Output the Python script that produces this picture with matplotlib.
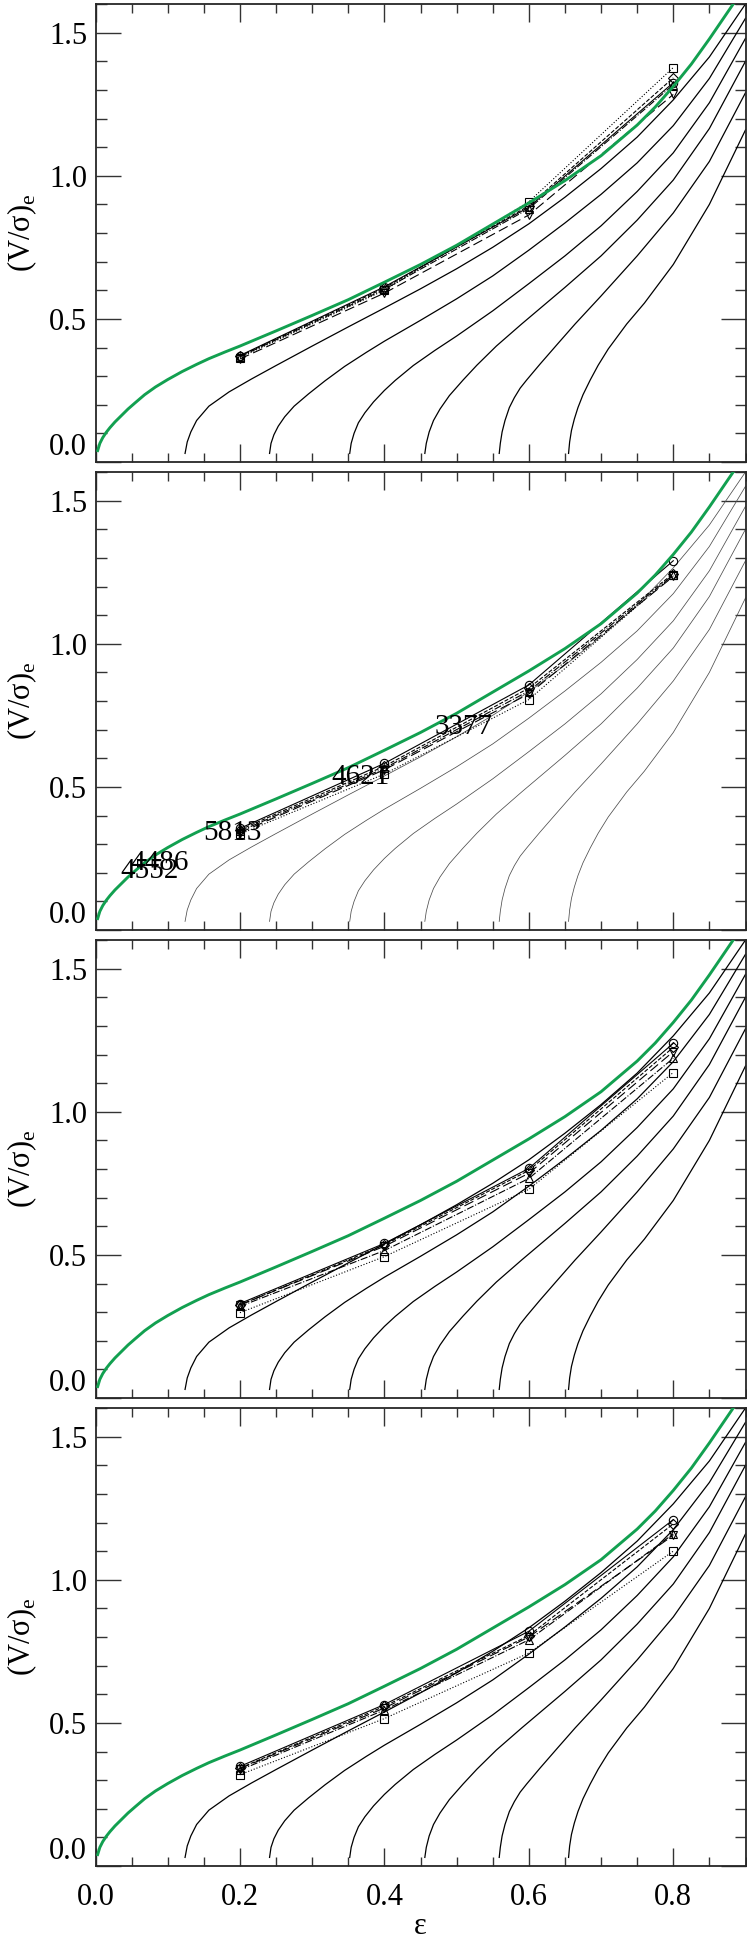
import matplotlib
matplotlib.use("Agg")
import matplotlib.pyplot as plt
from matplotlib.ticker import MultipleLocator

plt.rcParams['font.family'] = ['Liberation Serif', 'DejaVu Serif']
plt.rcParams['mathtext.fontset'] = 'custom'
plt.rcParams['mathtext.rm'] = 'Liberation Serif'

# ---- model curves ----
# green: edge-on line
green_eps = [0.003, 0.006, 0.01, 0.015, 0.02, 0.027, 0.035, 0.045, 0.055, 0.068, 0.083,
             0.1, 0.12, 0.14, 0.157, 0.18, 0.2, 0.25, 0.3, 0.35, 0.4, 0.45, 0.5, 0.55,
             0.6, 0.65, 0.7, 0.75, 0.775, 0.8, 0.825, 0.85, 0.883]
green_vs = [0.04, 0.065, 0.085, 0.104, 0.12, 0.14, 0.16, 0.185, 0.207, 0.235, 0.262,
            0.288, 0.316, 0.341, 0.361, 0.385, 0.405, 0.458, 0.512, 0.567, 0.628, 0.69,
            0.757, 0.831, 0.905, 0.983, 1.07, 1.177, 1.24, 1.312, 1.39, 1.478, 1.60]

# thin black curves (six of them)
c1_eps = [0.124, 0.127, 0.132, 0.14, 0.157, 0.185, 0.216, 0.25, 0.3, 0.35, 0.4, 0.45,
          0.5, 0.55, 0.6, 0.65, 0.7, 0.75, 0.8, 0.85, 0.9]
c1_vs = [0.03, 0.07, 0.105, 0.145, 0.195, 0.245, 0.29, 0.337, 0.405, 0.472, 0.538, 0.605,
         0.675, 0.75, 0.832, 0.925, 1.025, 1.135, 1.265, 1.415, 1.60]

c2_eps = [0.241, 0.243, 0.247, 0.253, 0.262, 0.275, 0.295, 0.318, 0.345, 0.375, 0.4, 0.45,
          0.5, 0.55, 0.6, 0.65, 0.7, 0.75, 0.8, 0.85, 0.9]
c2_vs = [0.03, 0.065, 0.095, 0.125, 0.158, 0.195, 0.238, 0.284, 0.334, 0.383, 0.422, 0.495,
         0.57, 0.65, 0.74, 0.835, 0.935, 1.045, 1.175, 1.34, 1.55]

c3_eps = [0.352, 0.354, 0.358, 0.364, 0.373, 0.385, 0.4, 0.415, 0.44, 0.47, 0.5, 0.55,
          0.6, 0.65, 0.7, 0.75, 0.8, 0.85, 0.9]
c3_vs = [0.03, 0.065, 0.1, 0.137, 0.172, 0.21, 0.25, 0.285, 0.337, 0.39, 0.44, 0.528,
         0.623, 0.72, 0.825, 0.945, 1.08, 1.255, 1.48]

c4_eps = [0.456, 0.458, 0.462, 0.468, 0.477, 0.49, 0.509, 0.528, 0.555, 0.59, 0.65, 0.7,
          0.75, 0.8, 0.85, 0.9]
c4_vs = [0.03, 0.065, 0.105, 0.145, 0.185, 0.232, 0.2865, 0.338, 0.405, 0.482, 0.61, 0.72,
         0.845, 0.985, 1.165, 1.40]

c5_eps = [0.559, 0.5605, 0.563, 0.567, 0.573, 0.58, 0.588, 0.597, 0.6155, 0.64, 0.664, 0.7,
          0.75, 0.8, 0.85, 0.9]
c5_vs = [0.03, 0.065, 0.105, 0.145, 0.19, 0.225, 0.258, 0.2865, 0.342, 0.413, 0.482, 0.58,
         0.72, 0.87, 1.05, 1.29]

c6_eps = [0.655, 0.6565, 0.659, 0.663, 0.668, 0.675, 0.685, 0.696, 0.71, 0.7355, 0.76, 0.8,
          0.85, 0.9]
c6_vs = [0.03, 0.07, 0.11, 0.15, 0.19, 0.235, 0.2865, 0.338, 0.395, 0.482, 0.555, 0.69,
         0.9, 1.16]

# ---- measured points, one list per symbol and panel ----
eps_obs = [0.2, 0.4, 0.6, 0.8]

p1_circle = [0.372, 0.612, 0.890, 1.325]
p1_square = [0.365, 0.600, 0.909, 1.378]
p1_diamond = [0.370, 0.608, 0.895, 1.342]
p1_tri = [0.368, 0.603, 0.885, 1.318]
p1_vtri = [0.360, 0.590, 0.863, 1.284]

p2_circle = [0.355, 0.582, 0.856, 1.290]
p2_square = [0.335, 0.545, 0.805, 1.240]
p2_diamond = [0.350, 0.572, 0.845, 1.245]
p2_tri = [0.345, 0.565, 0.835, 1.240]
p2_vtri = [0.340, 0.560, 0.825, 1.235]

p3_circle = [0.330, 0.540, 0.802, 1.239]
p3_square = [0.298, 0.494, 0.729, 1.137]
p3_diamond = [0.325, 0.535, 0.795, 1.225]
p3_tri = [0.320, 0.515, 0.767, 1.187]
p3_vtri = [0.325, 0.530, 0.785, 1.210]

p4_circle = [0.348, 0.564, 0.820, 1.210]
p4_square = [0.319, 0.515, 0.744, 1.100]
p4_diamond = [0.342, 0.558, 0.805, 1.195]
p4_tri = [0.335, 0.545, 0.790, 1.160]
p4_vtri = [0.340, 0.552, 0.800, 1.155]

# galaxy names written in the second panel
gal_names = ['4552', '4486', '5813', '4621', '3377']
gal_eps = [0.0755, 0.0893, 0.189, 0.367, 0.509]
gal_vs = [0.207, 0.233, 0.338, 0.536, 0.710]

curves = [(c1_eps, c1_vs), (c2_eps, c2_vs), (c3_eps, c3_vs),
          (c4_eps, c4_vs), (c5_eps, c5_vs), (c6_eps, c6_vs)]

panels = [
    [p1_circle, p1_square, p1_diamond, p1_tri, p1_vtri],
    [p2_circle, p2_square, p2_diamond, p2_tri, p2_vtri],
    [p3_circle, p3_square, p3_diamond, p3_tri, p3_vtri],
    [p4_circle, p4_square, p4_diamond, p4_tri, p4_vtri],
]
markers = ['o', 's', 'D', '^', 'v']
styles = ['-', ':', '--', '-.', (0, (9, 4))]

W, H = 747, 1941
fig = plt.figure(figsize=(W / 100, H / 100), dpi=100)

left, width = 95.5 / W, 650 / W
tops = [4, 472, 940, 1408]
ph = 458

green = '#12a050'

for k, top in enumerate(tops):
    ax = fig.add_axes([left, (H - top - ph) / H, width, ph / H])

    thin_col = '0.3' if k == 1 else 'black'
    thin_lw = 0.55 if k == 1 else 0.9
    for cx, cy in curves:
        ax.plot(cx, cy, color=thin_col, lw=thin_lw, zorder=2)
    ax.plot(green_eps, green_vs, color=green, lw=2.1, zorder=4)

    for vals, m, ls in zip(panels[k], markers, styles):
        ax.plot(eps_obs, vals, color='black', ls=ls, lw=0.8, marker=m,
                ms=6 if m != 'D' else 5, mfc='none', mec='black', mew=0.8, zorder=3)

    if k == 1:
        for name, gx, gy in zip(gal_names, gal_eps, gal_vs):
            ax.text(gx, gy, name, fontsize=21, ha='center', va='center', zorder=5)

    ax.set_xlim(0, 0.9)
    ax.set_ylim(0, 1.6)
    ax.xaxis.set_major_locator(MultipleLocator(0.2))
    ax.xaxis.set_minor_locator(MultipleLocator(0.05))
    ax.set_yticks([0.0, 0.5, 1.0, 1.5])
    ax.set_yticklabels(['0.0', '0.5', '1.0', '1.5'])
    ax.yaxis.set_minor_locator(MultipleLocator(0.1))
    ax.tick_params(which='both', direction='in', top=True, right=True,
                   color='0.2', width=1.0, labelsize=22)
    ax.tick_params(axis='x', which='major', length=13, pad=12)
    ax.tick_params(axis='x', which='minor', length=6.5)
    ax.tick_params(axis='y', which='major', length=18, pad=6)
    ax.tick_params(axis='y', which='minor', length=8)
    ax.yaxis.get_major_ticks()[0].label1.set_verticalalignment('bottom')
    if k < 3:
        ax.tick_params(axis='x', labelbottom=False)
    else:
        ax.set_xticks([0.0, 0.2, 0.4, 0.6, 0.8])
        ax.set_xticklabels(['0.0', '0.2', '0.4', '0.6', '0.8'])
    for sp in ax.spines.values():
        sp.set_color('0.15')
        sp.set_linewidth(1.3)

    ax.set_ylabel(r'(V/σ)$_{\rm e}$', fontsize=22)
    ax.yaxis.label.set_verticalalignment('center')
    ax.yaxis.set_label_coords(-0.112, 0.5)

fig.text((95.5 + 325) / W, 1 - 1926 / H, 'ε', fontsize=22, ha='center', va='center')

fig.savefig('out.png', dpi=100)
